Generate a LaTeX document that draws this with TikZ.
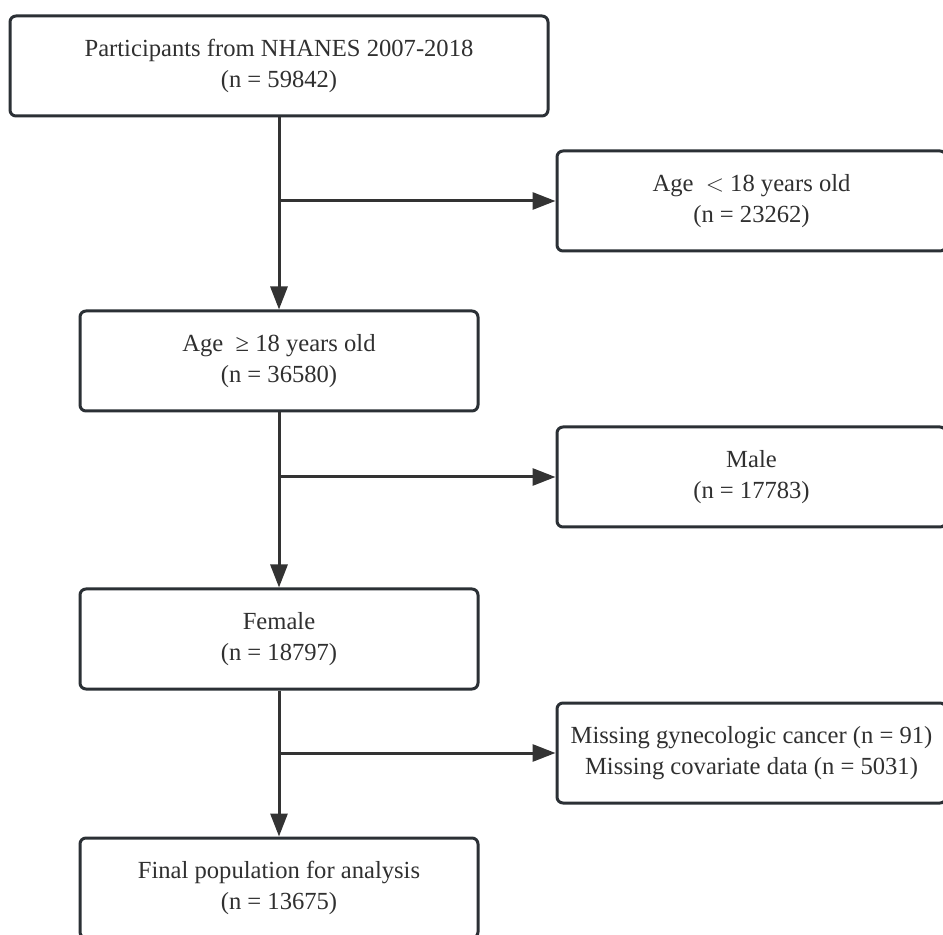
\documentclass[tikz,border=0pt]{standalone}
\usepackage{fontspec}
\setmainfont{Liberation Serif}
\usetikzlibrary{arrows.meta}
\definecolor{ln}{HTML}{333333}
\definecolor{bx}{HTML}{2B3035}
\definecolor{tx}{HTML}{303030}
\begin{document}
\begin{tikzpicture}[x=0.5pt,y=-0.5pt,
  boxstyle/.style={draw=bx, line width=1.5pt, rounded corners=3pt, fill=white,
    align=center, text=tx, font=\fontsize{12.3}{15.2}\selectfont, inner sep=0pt},
  arr/.style={draw=ln, line width=1.5pt, -{Triangle[length=11.5pt,width=8.5pt]}}]
\useasboundingbox (0,0) rectangle (943,935);
\clip (0,0) rectangle (943,935);
\fill[white] (0,0) rectangle (943,935);
\node[boxstyle, minimum width=269pt, minimum height=50pt] (top) at (279,66) {Participants from NHANES 2007-2018\\(n = 59842)};
\node[boxstyle, minimum width=194.5pt, minimum height=50pt] (lt) at (751.5,201) {Age ~$<$ 18 years old\\(n = 23262)};
\node[boxstyle, minimum width=199pt, minimum height=50pt] (ge) at (279,361) {Age ~≥ 18 years old\\(n = 36580)};
\node[boxstyle, minimum width=194.5pt, minimum height=50pt] (male) at (751.5,477) {Male\\(n = 17783)};
\node[boxstyle, minimum width=199pt, minimum height=50pt] (fem) at (279,639) {Female\\(n = 18797)};
\node[boxstyle, minimum width=194.5pt, minimum height=50pt] (miss) at (751.5,753) {Missing gynecologic cancer (n = 91)\\Missing covariate data (n = 5031)};
\node[boxstyle, minimum width=199pt, minimum height=50pt] (fin) at (279,888) {Final population for analysis\\(n = 13675)};
\coordinate (j1) at (top.south |- lt.west);
\coordinate (j2) at (ge.south |- male.west);
\coordinate (j3) at (fem.south |- miss.west);
\draw[arr] (top.south) -- (ge.north);
\draw[arr] (j1) -- (lt.west);
\draw[arr] (ge.south) -- (fem.north);
\draw[arr] (j2) -- (male.west);
\draw[arr] (fem.south) -- (fin.north);
\draw[arr] (j3) -- (miss.west);
\end{tikzpicture}
\end{document}
